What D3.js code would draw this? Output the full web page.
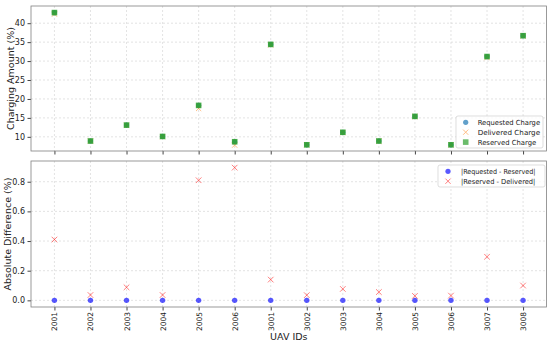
<!DOCTYPE html>
<html>
<head>
<meta charset="utf-8">
<script src="https://cdn.jsdelivr.net/npm/d3@7"></script>
<style>
  body { margin: 0; background: #fff; }
  svg text { font-family: "DejaVu Sans", sans-serif; fill: #222; }
  .grid line { stroke: #d0d0d0; stroke-dasharray: 2,2; stroke-width: 0.6; }
  .axis path { display: none; }
  .axis line { stroke: #444; }
</style>
</head>
<body>
<div id="chart"></div>
<script>
// UAV ids and charge values
const uavIds = ["2001","2002","2003","2004","2005","2006","3001","3002","3003","3004","3005","3006","3007","3008"];
const reserved = [42.8, 8.9, 13.1, 10.1, 18.3, 8.7, 34.4, 7.9, 11.2, 8.9, 15.4, 7.9, 31.2, 36.7];
const requested = [42.8, 8.9, 13.1, 10.1, 18.3, 8.7, 34.4, 7.9, 11.2, 8.9, 15.4, 7.9, 31.2, 36.7];
const resDelDiff = [0.41, 0.036, 0.088, 0.036, 0.81, 0.895, 0.14, 0.035, 0.077, 0.056, 0.03, 0.032, 0.294, 0.10];
const delivered = [42.39, 8.86, 13.01, 10.06, 17.49, 7.81, 34.26, 7.87, 11.12, 8.84, 15.37, 7.87, 30.91, 36.6];
const reqResDiff = [0, 0, 0, 0, 0, 0, 0, 0, 0, 0, 0, 0, 0, 0];
const topTicks = [10, 15, 20, 25, 30, 35, 40];
const botTicks = [0, 0.2, 0.4, 0.6, 0.8];

const W = 550, H = 342;
const left = 31, right = 546.5;
const top1 = 6, bot1 = 151, top2 = 161, bot2 = 307;

const svg = d3.select("#chart").append("svg")
    .attr("width", W).attr("height", H);

// shared x scale with matplotlib-like 5% margins
const idx = uavIds.map((d, i) => i);
const x = d3.scaleLinear().domain([-0.65, 13.65]).range([left, right]);

const y1 = d3.scaleLinear().domain([6.26, 44.54]).range([bot1, top1]);
const y2 = d3.scaleLinear().domain([-0.0448, 0.9398]).range([bot2, top2]);

function frame(yScale, yTop, yBot, ticks, fmt, label, labelX) {
  const g = svg.append("g");
  // grid
  g.append("g").attr("class", "grid").selectAll("line.v").data(idx).enter().append("line")
      .attr("x1", d => x(d)).attr("x2", d => x(d)).attr("y1", yTop).attr("y2", yBot);
  g.append("g").attr("class", "grid").selectAll("line.h").data(ticks).enter().append("line")
      .attr("x1", left).attr("x2", right).attr("y1", d => yScale(d)).attr("y2", d => yScale(d));
  // y axis
  g.append("g").attr("class", "axis").attr("transform", `translate(${left},0)`)
      .call(d3.axisLeft(yScale).tickValues(ticks).tickFormat(fmt).tickSize(3.5).tickPadding(2.5))
      .selectAll("text").style("font-size", "8px");
  // x ticks
  g.append("g").attr("class", "axis").attr("transform", `translate(0,${yBot})`)
      .call(d3.axisBottom(x).tickValues(idx).tickFormat("").tickSize(3.5));
  // frame
  g.append("rect").attr("x", left).attr("y", yTop).attr("width", right - left).attr("height", yBot - yTop)
      .attr("fill", "none").attr("stroke", "#808080").attr("stroke-width", 0.8);
  g.append("text").attr("transform", `translate(${labelX},${(yTop + yBot) / 2}) rotate(-90)`)
      .attr("text-anchor", "middle").style("font-size", "9.5px").text(label);
  return g;
}

frame(y1, top1, bot1, topTicks, d3.format("d"), "Charging Amount (%)", 14);
frame(y2, top2, bot2, botTicks, d3.format(".1f"), "Absolute Difference (%)", 11);

// x tick labels (rotated) on bottom panel
svg.append("g").selectAll("text").data(uavIds).enter().append("text")
    .attr("transform", (d, i) => `translate(${x(i) + 3},${bot2 + 5}) rotate(-90)`)
    .attr("text-anchor", "end").style("font-size", "7.5px").text(d => d);
svg.append("text").attr("x", (left + right) / 2).attr("y", 340)
    .attr("text-anchor", "middle").style("font-size", "9.5px").text("UAV IDs");

function crossPath(cx, cy, r) {
  return `M${cx - r},${cy - r}L${cx + r},${cy + r}M${cx - r},${cy + r}L${cx + r},${cy - r}`;
}

// top panel marks
const t = svg.append("g");
t.selectAll("circle").data(requested).enter().append("circle")
    .attr("cx", (d, i) => x(i)).attr("cy", d => y1(d)).attr("r", 2.6)
    .attr("fill", "#1f77b4").attr("opacity", 0.7);
t.selectAll("path.del").data(delivered).enter().append("path").attr("class", "del")
    .attr("d", (d, i) => crossPath(x(i), y1(d), 2.6))
    .attr("stroke", "#ff7f0e").attr("stroke-width", 1).attr("opacity", 0.5).attr("fill", "none");
t.selectAll("rect").data(reserved).enter().append("rect")
    .attr("x", (d, i) => x(i) - 2.8).attr("y", d => y1(d) - 2.8).attr("width", 5.6).attr("height", 5.6)
    .attr("fill", "#2ca02c").attr("opacity", 0.85);

// bottom panel marks
const b = svg.append("g");
b.selectAll("circle").data(reqResDiff).enter().append("circle")
    .attr("cx", (d, i) => x(i)).attr("cy", d => y2(d)).attr("r", 2.7)
    .attr("fill", "#0000ff").attr("opacity", 0.65);
b.selectAll("path").data(resDelDiff).enter().append("path")
    .attr("d", (d, i) => crossPath(x(i), y2(d), 2.8))
    .attr("stroke", "#ff0000").attr("stroke-width", 1).attr("opacity", 0.5).attr("fill", "none");

// legends
function legend(x0, y0, w, h, markX, textX, textW, items) {
  const g = svg.append("g").attr("transform", `translate(${x0},${y0})`);
  g.append("rect").attr("width", w).attr("height", h).attr("rx", 2)
      .attr("fill", "white").attr("fill-opacity", 0.8).attr("stroke", "#d0d0d0").attr("stroke-width", 0.7);
  items.forEach((it, i) => {
    const cy = 6.3 + i * 9.9, cx = markX;
    if (it.shape === "circle") {
      g.append("circle").attr("cx", cx).attr("cy", cy).attr("r", 2.6).attr("fill", it.color).attr("opacity", it.op);
    } else if (it.shape === "x") {
      g.append("path").attr("d", crossPath(cx, cy, 2.6)).attr("stroke", it.color)
          .attr("stroke-width", 1).attr("opacity", it.op);
    } else {
      g.append("rect").attr("x", cx - 2.8).attr("y", cy - 2.8).attr("width", 5.6).attr("height", 5.6)
          .attr("fill", it.color).attr("opacity", it.op);
    }
    g.append("text").attr("x", textX).attr("y", cy + 2.6).style("font-size", "7px")
        .attr("textLength", textW(it.label)).attr("lengthAdjust", "spacingAndGlyphs").text(it.label);
  });
}

legend(456, 116, 87, 32, 9.7, 21.7, s => s.length * 3.9, [
  {shape: "circle", color: "#1f77b4", op: 0.7, label: "Requested Charge"},
  {shape: "x", color: "#ff7f0e", op: 0.5, label: "Delivered Charge"},
  {shape: "square", color: "#2ca02c", op: 0.7, label: "Reserved Charge"}
]);
legend(438, 165, 107, 22, 10, 23, s => s.length * 3.38, [
  {shape: "circle", color: "#0000ff", op: 0.65, label: "|Requested - Reserved|"},
  {shape: "x", color: "#ff0000", op: 0.5, label: "|Reserved - Delivered|"}
]);
</script>
</body>
</html>
